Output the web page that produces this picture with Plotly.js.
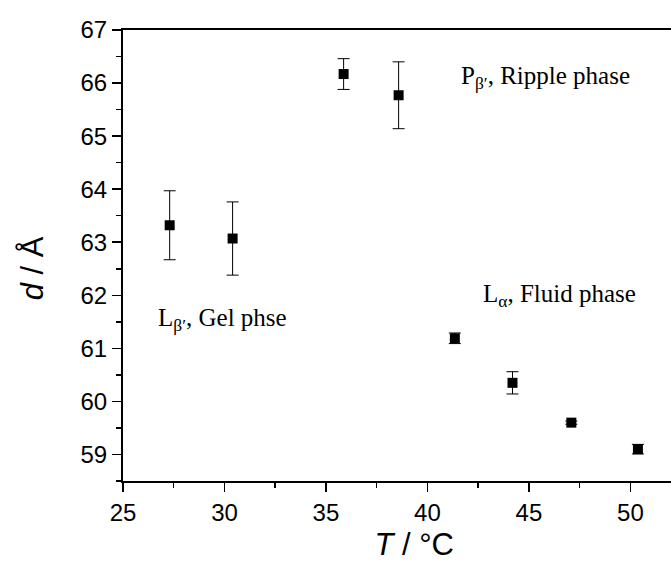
<!DOCTYPE html>
<html>
<head>
<meta charset="utf-8">
<script src="https://cdn.plot.ly/plotly-3.0.1.min.js"></script>
<style>html,body{margin:0;padding:0;background:#fff;overflow:hidden;}</style>
</head>
<body>
<div id="chart" style="width:671px;height:562px;"></div>
<script>
// Data
const temperature = [27.3, 30.4, 35.87, 38.58, 41.35, 44.19, 47.09, 50.37];
const spacing     = [63.32, 63.07, 66.17, 65.77, 61.19, 60.35, 59.60, 59.10];
const spacingErr  = [0.65, 0.69, 0.29, 0.63, 0.10, 0.21, 0.03, 0.09];

const phaseLabels = ["P<sub>β′</sub>, Ripple phase", "L<sub>α</sub>, Fluid phase", "L<sub>β′</sub>, Gel phse"];
const phaseX = [41.56, 42.63, 26.64];
const phaseY = [66.1, 62.0, 61.55];

const xTicks = [25, 30, 35, 40, 45, 50];
const yTicks = [59, 60, 61, 62, 63, 64, 65, 66, 67];

const trace = {
  x: temperature,
  y: spacing,
  type: 'scatter',
  mode: 'markers',
  marker: {symbol: 'square', size: 10, color: '#000'},
  error_y: {type: 'data', array: spacingErr, visible: true, color: '#000', thickness: 1, width: 6},
  showlegend: false,
  hoverinfo: 'x+y'
};

const annotations = phaseLabels.map((t, i) => ({
  x: phaseX[i], y: phaseY[i], xref: 'x', yref: 'y',
  text: t, showarrow: false, xanchor: 'left', yanchor: 'middle',
  font: {family: 'Liberation Serif, Times New Roman, serif', size: 25, color: '#000'}
}));

const axisFont = {family: 'Liberation Sans, Arial, sans-serif', size: 24, color: '#000'};
const titleFont = {family: 'Liberation Sans, Arial, sans-serif', size: 31, color: '#000'};

const layout = {
  width: 671, height: 562,
  margin: {l: 123, r: 0, t: 30, b: 81},
  paper_bgcolor: '#fff', plot_bgcolor: '#fff',
  font: axisFont,
  xaxis: {
    range: [25, 52], tickvals: xTicks, ticktext: xTicks.map(String),
    showgrid: false, zeroline: false,
    showline: true, linecolor: '#000', linewidth: 2, mirror: true,
    ticks: 'outside', ticklen: 9, tickwidth: 1.5, tickcolor: '#000',
    minor: {dtick: 2.5, tick0: 25, ticks: 'outside', ticklen: 5, tickwidth: 1.5, tickcolor: '#000', showgrid: false},
    tickfont: axisFont,
    title: {text: '&nbsp;&nbsp;&nbsp;&nbsp;<i>T</i> / °C', font: titleFont, standoff: 12}
  },
  yaxis: {
    range: [58.5, 67], tickvals: yTicks, ticktext: yTicks.map(String),
    showgrid: false, zeroline: false,
    showline: true, linecolor: '#000', linewidth: 2, mirror: false,
    ticks: 'outside', ticklen: 9, tickwidth: 1.5, tickcolor: '#000',
    minor: {dtick: 0.5, tick0: 58.5, ticks: 'outside', ticklen: 5, tickwidth: 1.5, tickcolor: '#000', showgrid: false},
    tickfont: axisFont,
    title: {text: '<i>d</i> / Å&nbsp;&nbsp;&nbsp;', font: titleFont, standoff: 28}
  },
  annotations: annotations
};

Plotly.newPlot('chart', [trace], layout, {displayModeBar: false, staticPlot: true});
</script>
</body>
</html>
